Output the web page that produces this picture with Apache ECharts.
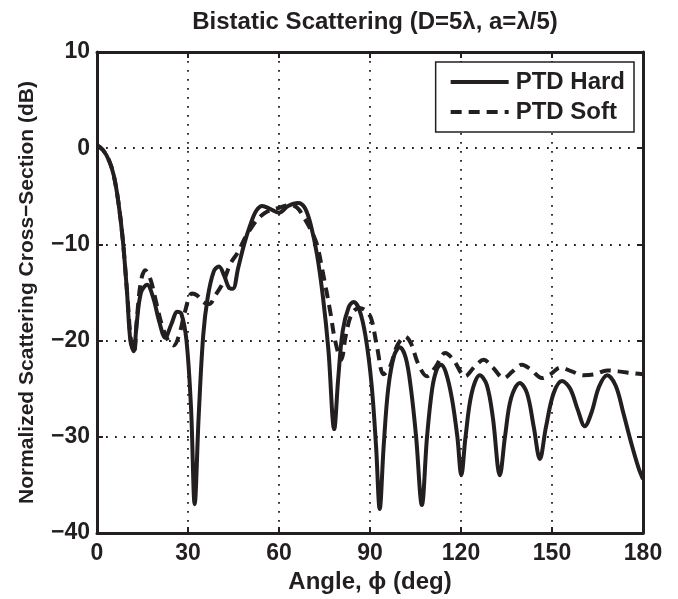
<!DOCTYPE html>
<html lang="en">
<head>
<meta charset="UTF-8">
<title>Bistatic Scattering</title>
<script src="https://cdn.jsdelivr.net/npm/echarts@6/dist/echarts.min.js"></script>
</head>
<body style="margin:0;background:#fff;">
<div id="main" style="position:absolute;left:0;top:0;width:678px;height:599px"></div>
<script>
// angle (deg), normalized RCS (dB)
var hardAngle = [0, 2, 4, 5.5, 7, 8.5, 9.9, 11, 12.1, 13, 14.5, 16.5, 18.5, 20.5, 22.5, 24.5, 26.5, 27.8, 29.5, 31, 32.2, 33.5, 35, 36.5, 38.5, 40.2, 42, 43.5, 44.8, 46.5, 48.5, 50.5, 52.5, 54.5, 57, 60, 63, 66.3, 68.5, 70.5, 72.5, 74.5, 76.3, 78.2, 79.5, 81, 83, 84.6, 86.5, 88.5, 90.5, 92, 93.2, 94.5, 96, 98, 99.8, 101.8, 103.5, 105.2, 107.1, 108.8, 110.5, 112, 113.4, 115, 117, 118.8, 120.1, 121.5, 123.5, 126.2, 128.5, 130.5, 132.8, 134.5, 136.5, 139.4, 141.8, 144, 146, 148, 150.5, 153.3, 156, 158.5, 160.8, 163, 165.5, 168.2, 171, 173.5, 176, 178.5, 180];
var hardDb = [0.3, -0.2, -1.3, -2.8, -5.5, -9.5, -15, -20, -21.1, -18.5, -15, -14.2, -15.5, -18, -19.7, -18.3, -17, -17.2, -20, -27, -37, -28, -19.5, -15.5, -12.8, -12.3, -13.3, -14.5, -14.6, -12.5, -10, -8, -6.5, -6, -6.3, -6.7, -6, -5.7, -6.2, -8, -11, -15.5, -21, -29.2, -24, -19, -16.5, -16, -16.8, -19.5, -24.5, -31, -37.5, -31, -25, -21.5, -20.7, -21.8, -25, -30, -37.1, -30, -25, -23, -22.5, -23.3, -26, -30, -34, -30, -25.5, -23.6, -24.6, -28, -34, -30, -26, -24.4, -25.5, -29, -32.3, -29, -25.5, -24.2, -25, -27.2, -28.9, -27.5, -24.8, -23.6, -24.7, -27.5, -30.5, -33.2, -34.4];

var softAngle = [0, 2, 4, 5.5, 7, 8.5, 10, 11.2, 12.2, 13.2, 14.5, 15.9, 17.5, 19.5, 21.5, 23.5, 25.3, 27, 29, 31.3, 33, 35, 37, 39, 41.5, 44, 46.5, 48.5, 51, 53.5, 56, 60, 63.5, 66, 68.2, 70.5, 72.5, 74.5, 76.9, 78.5, 80.5, 82, 84, 86.5, 89, 90.5, 92.3, 94.5, 96.5, 99, 101.6, 103.5, 106, 108.8, 111.5, 114.8, 117.5, 121.4, 124.5, 127.5, 130.5, 134.1, 137, 140.1, 143, 146.7, 149.5, 152.8, 156.5, 160.4, 164, 168.2, 172, 176.9, 180];
var softDb = [0.3, -0.2, -1.3, -2.8, -5.5, -9.5, -15.3, -20, -21.2, -17.5, -13.8, -12.7, -13.5, -16, -18.5, -20, -20.5, -19.5, -17, -15.1, -15.3, -16, -16.2, -15.3, -14, -12, -10.8, -9.5, -8.2, -7.2, -6.6, -6.2, -5.9, -6.2, -7.2, -8.5, -10, -13, -17, -20, -22, -19.5, -17.2, -16.6, -17, -17.8, -20.6, -23.5, -22.8, -20.5, -19.6, -20.3, -22.5, -23.7, -22.8, -21.3, -22, -23.7, -22.7, -22, -22.8, -23.9, -23.2, -22.5, -23, -23.9, -23.5, -22.8, -23.2, -23.6, -23.5, -23.1, -23.2, -23.4, -23.5];

var xTicks = [0, 30, 60, 90, 120, 150, 180];

function pairs(xs, ys) {
    return xs.map(function (x, i) { return [x, ys[i]]; });
}

var font = 'Liberation Sans';
var ink = '#231f20';
var myChart = echarts.init(document.getElementById('main'));

var tickStyle = { show: true, inside: true, length: 6, lineStyle: { color: ink, width: 2 } };
var axisLine = { show: true, onZero: false, lineStyle: { color: ink, width: 3 } };
var dotted = { show: true, lineStyle: { color: ink, width: 1.8, type: [1.8, 7.2] } };

myChart.setOption({
    animation: false,
    title: {
        text: 'Bistatic Scattering (D=5\u03bb, a=\u03bb/5)',
        left: 370, textAlign: 'center', top: 5,
        textStyle: { fontFamily: font, fontSize: 24, fontWeight: 'bold', color: ink }
    },
    grid: { left: 97, right: 35, top: 52, bottom: 63, containLabel: false },
    legend: {
        orient: 'vertical',
        right: 44, top: 62,
        padding: [8, 9, 8, 13],
        itemWidth: 58, itemHeight: 14, itemGap: 6,
        backgroundColor: '#fff',
        borderColor: ink, borderWidth: 1.5, borderRadius: 0,
        itemStyle: { opacity: 0 },
        lineStyle: { width: 4 },
        textStyle: { fontFamily: font, fontSize: 24, fontWeight: 'bold', color: ink, padding: [0, 0, 0, 2] },
        data: ['PTD Hard', 'PTD Soft']
    },
    xAxis: [{
        type: 'value', min: 0, max: 180, interval: 30,
        name: 'Angle, \u03d5 (deg)', nameLocation: 'middle', nameGap: 37,
        nameTextStyle: { fontFamily: font, fontSize: 24, fontWeight: 'bold', color: ink },
        axisLine: axisLine, axisTick: tickStyle, splitLine: dotted,
        axisLabel: { fontFamily: font, fontSize: 23, fontWeight: 'bold', color: ink, margin: 9,
            formatter: function (v) { return xTicks.indexOf(v) >= 0 ? String(v) : ''; } }
    }, {
        type: 'value', min: 0, max: 180, interval: 30, position: 'top',
        axisLine: axisLine, axisTick: tickStyle, splitLine: { show: false }, axisLabel: { show: false }
    }],
    yAxis: [{
        type: 'value', min: -40, max: 10, interval: 10,
        name: 'Normalized Scattering Cross\u2212Section (dB)', nameLocation: 'middle', nameGap: 59,
        nameTextStyle: { fontFamily: font, fontSize: 21, fontWeight: 'bold', color: ink },
        axisLine: axisLine, axisTick: tickStyle, splitLine: dotted,
        axisLabel: { fontFamily: font, fontSize: 23, fontWeight: 'bold', color: ink, margin: 7,
            formatter: function (v) { return String(v).replace('-', '\u2212'); } }
    }, {
        type: 'value', min: -40, max: 10, interval: 10, position: 'right',
        axisLine: axisLine, axisTick: tickStyle, splitLine: { show: false }, axisLabel: { show: false }
    }],
    series: [{
        name: 'PTD Hard', type: 'line', smooth: 0.35, symbol: 'none',
        lineStyle: { color: ink, width: 4 },
        itemStyle: { color: ink },
        data: pairs(hardAngle, hardDb)
    }, {
        name: 'PTD Soft', type: 'line', smooth: 0.35, symbol: 'none',
        lineStyle: { color: ink, width: 4, type: [11, 7] },
        itemStyle: { color: ink },
        data: pairs(softAngle, softDb)
    }]
});
</script>
</body>
</html>
